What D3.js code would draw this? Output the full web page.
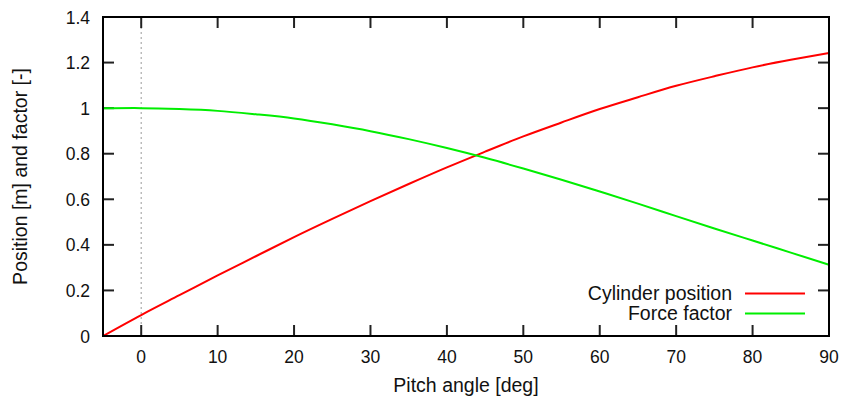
<!DOCTYPE html>
<html><head><meta charset="utf-8">
<script src="https://cdn.jsdelivr.net/npm/d3@7"></script>
<style>body{margin:0;background:#fff}svg{display:block}text{font-family:"Liberation Sans",Arial,sans-serif;fill:#111}</style>
</head><body><div id="c"></div>
<script>
const angles = [-5,0,5,10,15,20,25,30,35,40,45,50,55,60,65,70,75,80,85,90];
const cylinderPosition = [0,0.092,0.179,0.266,0.35,0.434,0.514,0.592,0.667,0.74,0.809,0.876,0.937,0.996,1.048,1.098,1.14,1.179,1.212,1.242];
const forceFactor = [0.999,1.0,0.996,0.988,0.973,0.955,0.929,0.899,0.864,0.825,0.782,0.735,0.686,0.634,0.581,0.526,0.472,0.419,0.366,0.313];
const xTicks = [0,10,20,30,40,50,60,70,80,90];
const yTicks = [0,0.2,0.4,0.6,0.8,1,1.2,1.4];
const seriesNames = ["Cylinder position","Force factor"];
const seriesColors = ["#ff0000","#00ee00"];

const W=843,H=400, L=103, R=829, T=17, B=336;
const svg=d3.select("#c").append("svg").attr("width",W).attr("height",H);
const x=d3.scaleLinear().domain([-5,90]).range([L,R]);
const y=d3.scaleLinear().domain([0,1.4]).range([B,T]);
const tl=11, fsT=17.5, fsL=19.5;

// dotted zero line
svg.append("line").attr("x1",x(0)).attr("x2",x(0)).attr("y1",T).attr("y2",B)
  .attr("stroke","#aaa").attr("stroke-width",1.2).attr("stroke-dasharray","2,3");

// ticks (inward, mirrored)
const tk=svg.append("g").attr("stroke","#222").attr("stroke-width",2);
xTicks.forEach(v=>{
  tk.append("line").attr("x1",x(v)).attr("x2",x(v)).attr("y1",B).attr("y2",B-tl);
  tk.append("line").attr("x1",x(v)).attr("x2",x(v)).attr("y1",T).attr("y2",T+tl);
});
yTicks.forEach(v=>{
  tk.append("line").attr("x1",L).attr("x2",L+tl).attr("y1",y(v)).attr("y2",y(v));
  tk.append("line").attr("x1",R).attr("x2",R-tl).attr("y1",y(v)).attr("y2",y(v));
});

// tick labels
svg.append("g").selectAll("text").data(xTicks).join("text")
  .attr("x",d=>x(d)).attr("y",363).attr("text-anchor","middle").attr("font-size",fsT).text(d=>d);
svg.append("g").selectAll("text").data(yTicks).join("text")
  .attr("x",90).attr("y",d=>y(d)+6.5).attr("text-anchor","end").attr("font-size",fsT).text(d=>d);

// axis titles
svg.append("text").attr("x",(L+R)/2).attr("y",392).attr("text-anchor","middle").attr("font-size",fsL).text("Pitch angle [deg]");
svg.append("text").attr("transform",`translate(27,${(T+B)/2}) rotate(-90)`).attr("text-anchor","middle").attr("font-size",fsL).text("Position [m] and factor [-]");

// lines
const line=d3.line().x((d,i)=>x(angles[i])).y(d=>y(d)).curve(d3.curveNatural);
[cylinderPosition,forceFactor].forEach((s,k)=>{
  svg.append("path").attr("d",line(s)).attr("fill","none").attr("stroke",seriesColors[k]).attr("stroke-width",2);
});

// legend
seriesNames.forEach((n,k)=>{
  const ly=293.5+k*20;
  svg.append("text").attr("x",732).attr("y",ly+6.5).attr("text-anchor","end").attr("font-size",fsL).text(n);
  svg.append("line").attr("x1",745).attr("x2",805).attr("y1",ly).attr("y2",ly).attr("stroke",seriesColors[k]).attr("stroke-width",2);
});

// border
svg.append("rect").attr("x",L).attr("y",T).attr("width",R-L).attr("height",B-T).attr("fill","none").attr("stroke","#000").attr("stroke-width",2);
</script></body></html>
